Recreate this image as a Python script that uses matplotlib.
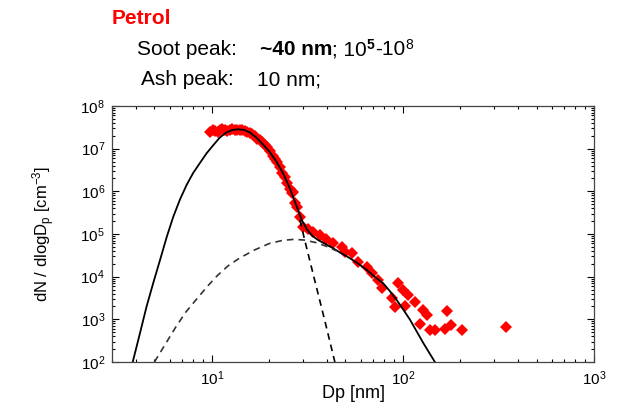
import matplotlib
import matplotlib.pyplot as plt
import numpy as np
from matplotlib.ticker import LogLocator, NullFormatter, LogFormatterSciNotation

matplotlib.use("Agg")

plt.rcParams["font.family"] = ["Liberation Sans", "DejaVu Sans"]
plt.rcParams["mathtext.fontset"] = "custom"
plt.rcParams["mathtext.rm"] = "Liberation Sans"
plt.rcParams["mathtext.it"] = "Liberation Sans:italic"
plt.rcParams["mathtext.bf"] = "Liberation Sans:bold"

# measured size distribution (red diamonds)
dp_meas = [9.77, 10.1, 10.4, 10.7, 11.0, 11.3, 11.7, 12.0, 12.4, 12.8, 13.2, 13.6,
           14.0, 14.4, 14.9, 15.3, 15.8, 16.3, 16.8, 17.3, 17.8, 18.3, 18.9, 19.5,
           20.1, 20.8, 21.4, 22.0, 22.7, 23.4, 24.1, 24.6, 25.6, 26.2, 26.7, 27.2,
           27.8, 28.9,
           30.1, 31.8, 33.9, 36.7, 39.5, 43.2, 47.8, 49.7, 53.9, 58.3, 64.6, 68.6,
           74.3, 77.3, 87.3, 90.8, 94.4, 100.4, 102.3, 106.6, 115.6, 122.8, 127.7,
           133, 138, 147, 166, 171, 178, 203, 346]
n_meas = [2.46e7, 2.69e7, 2.59e7, 2.51e7, 2.67e7, 2.82e7, 2.74e7, 2.63e7, 2.81e7,
          2.95e7, 2.81e7, 2.69e7, 2.74e7, 2.75e7, 2.59e7, 2.40e7, 2.33e7, 2.24e7,
          1.98e7, 1.70e7, 1.60e7, 1.45e7, 1.22e7, 1.10e7, 8.8e6, 6.9e6, 5.7e6,
          4.9e6, 3.7e6, 2.63e6, 2.17e6, 1.55e6, 1.14e6, 8.9e5, 9.8e5, 5.3e5,
          4.2e5, 2.5e5,
          1.48e5, 1.31e5, 1.11e5, 9.5e4, 7.6e4, 6.05e4, 5.05e4, 3.85e4, 3.53e4,
          2.24e4, 1.71e4, 1.2e4, 8.4e3, 5.3e3, 3.11e3, 1.98e3, 7.0e3, 4.9e3,
          2.06e3, 3.7e3, 2.6e3, 778, 1.66e3, 1.26e3, 562, 562, 585, 1.6e3, 736,
          562, 673]

# total fit (solid)
dp_fit = [3.85, 4.2, 4.55, 4.93, 5.35, 5.8, 6.27, 6.79, 7.37, 7.98, 8.65, 9.38,
          10.2, 11.0, 11.9, 12.8, 13.7, 14.7, 15.8, 17.1, 18.5, 20.1, 21.8, 23.6,
          25.6, 27.7, 29.5, 31.5, 33.5, 36, 39.5, 43.2, 47.5, 52.8, 58.5, 64.6,
          71, 78.8, 85, 92.7, 100, 109, 118, 128, 138, 147]
n_fit = [1.0e2, 4.7e2, 2.0e3, 7.1e3, 2.45e4, 8.5e4, 2.5e5, 6.3e5, 1.41e6, 2.7e6,
         4.6e6, 7.8e6, 1.23e7, 1.82e7, 2.4e7, 2.75e7, 2.85e7, 2.75e7, 2.4e7,
         1.82e7, 1.26e7, 8.3e6, 4.9e6, 2.63e6, 1.17e6, 4.6e5, 2.14e5, 1.26e5,
         9.1e4, 7.2e4, 5.75e4, 4.6e4, 3.55e4, 2.7e4, 2.0e4, 1.44e4, 1.0e4, 7.0e3,
         4.7e3, 2.84e3, 1.74e3, 9.7e2, 5.2e2, 2.75e2, 1.58e2, 1.0e2]

# accumulation (soot) mode, dashed
dp_acc = [5.0, 5.6, 6.45, 7.3, 8.3, 9.5, 10.7, 12.2, 14.0, 16.8, 20.0, 23.5, 27.0,
          30.5, 35.0, 40.0, 45.0]
n_acc = [1.0e2, 2.29e2, 6.46e2, 1.48e3, 2.95e3, 6.03e3, 1.07e4, 1.82e4, 2.75e4,
         4.27e4, 6.0e4, 7.1e4, 7.5e4, 7.2e4, 6.3e4, 5.1e4, 4.0e4]

# nucleation mode tail, dashed
dp_nuc = [28.9, 30.6, 34.5, 38.9, 44.0]
n_nuc = [2.13e5, 7.2e4, 8.3e3, 9.7e2, 1.0e2]

fig = plt.figure(figsize=(6.39, 4.11), dpi=100)
ax = fig.add_axes([0.1753, 0.1192, 0.7543, 0.6229])

ax.plot(dp_meas, n_meas, "D", color="#ff0000", markersize=6, markeredgewidth=0)
ax.plot(dp_fit, n_fit, "-", color="k", lw=1.3)
ax.plot(dp_acc, n_acc, "--", color="#333333", lw=1.2, dashes=(4, 3))
ax.plot(dp_nuc, n_nuc, "--", color="k", lw=1.2, dashes=(4, 3))

ax.set_xscale("log")
ax.set_yscale("log")
ax.set_xlim(3, 1000)
ax.set_ylim(1e2, 1e8)

for axis in (ax.xaxis, ax.yaxis):
    axis.set_major_locator(LogLocator(base=10, numticks=20))
    axis.set_minor_locator(LogLocator(base=10, subs=np.arange(2, 10), numticks=100))
    axis.set_minor_formatter(NullFormatter())
    axis.set_major_formatter(LogFormatterSciNotation())

ax.tick_params(which="both", direction="in", top=True, right=True,
               labelsize=11, width=0.8, colors="k")
ax.tick_params(which="major", length=5, pad=5)
ax.tick_params(which="minor", length=2.5)
for sp in ax.spines.values():
    sp.set_linewidth(0.9)
    sp.set_color("#444444")

ax.set_xlabel("Dp [nm]", fontsize=13, labelpad=-2)
ax.set_ylabel(r"dN / dlogD$_\mathregular{p}$ [cm$^\mathregular{-3}$]", fontsize=12,
              labelpad=17)


def put_row(x, y, pieces):
    # place text pieces one after another (figure pixel coords, y from top)
    r = fig.canvas.get_renderer()
    W, H = fig.bbox.width, fig.bbox.height
    for s, kw in pieces:
        dy = kw.pop("dy", 0)
        t = fig.text(x / W, 1 - (y - dy) / H, s, va="baseline", ha="left", **kw)
        x += t.get_window_extent(r).width


put_row(112, 24, [("Petrol", dict(fontsize=15, color="#ff0000", fontweight="bold"))])
put_row(137, 55, [("Soot peak:    ", dict(fontsize=15)),
                  ("~40 nm", dict(fontsize=15, fontweight="bold")),
                  ("; 10", dict(fontsize=15)),
                  ("5", dict(fontsize=10, fontweight="bold", dy=6)),
                  ("-10", dict(fontsize=15)),
                  ("8", dict(fontsize=10, dy=6))])
put_row(141, 85, [("Ash peak:    ", dict(fontsize=15)),
                  ("10 nm;", dict(fontsize=15))])

fig.savefig("out.png", dpi=100)
